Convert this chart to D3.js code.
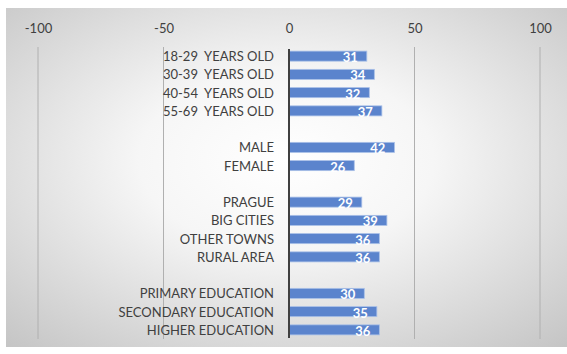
<!DOCTYPE html>
<html><head><meta charset="utf-8">
<script src="https://cdn.jsdelivr.net/npm/d3@7"></script>
<style>body{margin:0;background:#fff}svg{display:block}</style>
</head><body><svg id="c" width="567" height="354"></svg>
<script>
const categories = ["18-29  YEARS OLD","30-39  YEARS OLD","40-54  YEARS OLD","55-69  YEARS OLD","",
  "MALE","FEMALE","_",
  "PRAGUE","BIG CITIES","OTHER TOWNS","RURAL AREA","__",
  "PRIMARY EDUCATION","SECONDARY EDUCATION","HIGHER EDUCATION"];
const values = [31,34,32,37,null,42,26,null,29,39,36,36,null,30,35,36];
const tickValues = [-100,-50,0,50,100];

const svg = d3.select("#c");
const defs = svg.append("defs");
const g = defs.append("radialGradient").attr("id","bg").attr("cx","50%").attr("cy","45%").attr("r","75%");
g.append("stop").attr("offset","0%").attr("stop-color","#ffffff");
g.append("stop").attr("offset","35%").attr("stop-color","#f6f6f6");
g.append("stop").attr("offset","100%").attr("stop-color","#c4c4c4");
svg.append("rect").attr("x",6).attr("y",8).attr("width",561).attr("height",339).attr("fill","url(#bg)");

const x = d3.scaleLinear().domain([-100,100]).range([38,540]);
const y = d3.scaleBand().domain(categories).range([47,339]).paddingInner(0.45).paddingOuter(0.225);
const plotTop = 47, plotBottom = 339;
const font = "Lato, 'Open Sans', sans-serif";

// gridlines
svg.append("g").selectAll("line").data(tickValues.filter(d=>d!==0)).join("line")
  .attr("x1",d=>x(d)).attr("x2",d=>x(d)).attr("y1",plotTop).attr("y2",plotBottom)
  .attr("stroke","#b0b0b0").attr("stroke-width",1);

// top axis labels
const ax = svg.append("g").attr("transform","translate(0,33)")
  .call(d3.axisTop(x).tickValues(tickValues).tickFormat(d=>String(d)).tickSize(0).tickPadding(0));
ax.select(".domain").remove();
ax.selectAll("text").attr("font-family",font).attr("font-size",13).attr("fill","#404040");

const rows = categories.map((c,i)=>({c,v:values[i]})).filter(d=>d.v!=null);

// bars
svg.append("g").selectAll("rect").data(rows).join("rect")
  .attr("x",x(0)).attr("y",d=>y(d.c)).attr("width",d=>x(d.v)-x(0)).attr("height",y.bandwidth())
  .attr("fill","#5b84cd").attr("stroke","#a9c0e8").attr("stroke-width",0.8);

// value labels
svg.append("g").selectAll("text").data(rows).join("text")
  .attr("x",d=>x(d.v)-9).attr("y",d=>y(d.c)+y.bandwidth()/2+6)
  .attr("text-anchor","end").attr("font-family",font).attr("font-weight","bold")
  .attr("font-size",13).attr("fill","#ffffff").text(d=>d.v);

// zero axis
svg.append("line").attr("x1",x(0)).attr("x2",x(0)).attr("y1",plotTop+2).attr("y2",plotBottom-1)
  .attr("stroke","#404040").attr("stroke-width",2);

// category labels
svg.append("g").selectAll("text").data(categories.filter(c=>c && !c.startsWith("_"))).join("text")
  .attr("x",274).attr("y",d=>y(d)+y.bandwidth()/2+5)
  .attr("text-anchor","end").attr("font-family",font)
  .attr("font-size",13).attr("fill","#404040").attr("xml:space","preserve").style("white-space","pre").text(d=>d);
</script></body></html>
